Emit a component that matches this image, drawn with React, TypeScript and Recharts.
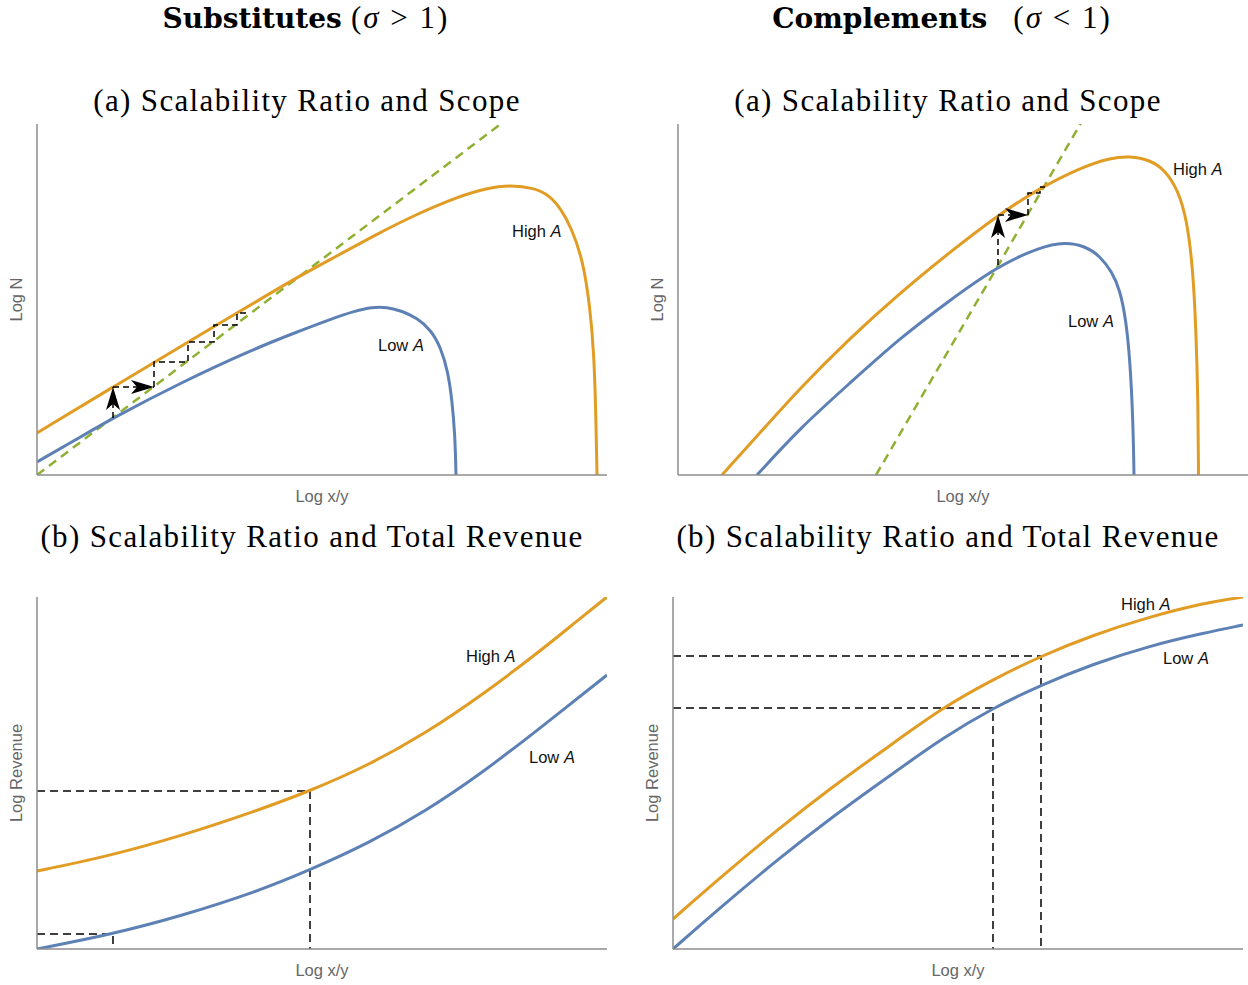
import { LineChart, Line, XAxis, YAxis, ReferenceDot } from "recharts";

const ORANGE = "#E19C24";
const BLUE = "#5E81B5";
const GREEN = "#8FB032";
const AXIS = "#8c8c8c";
const AXIS_TEXT = "#666666";
const SANS = "'Liberation Sans', Arial, sans-serif";
const SERIF = "'Liberation Serif', 'Times New Roman', serif";
const BOLD_SERIF = "'DejaVu Serif', serif";

// axis ranges (arbitrary log units, no ticks shown)
const X_MAX = 570;
const Y_MAX_TOP = 351;
const Y_MAX_BOTTOM = 352;

type Pt = { x: number; y: number };

// --- Substitutes (a): scalability ratio and scope ---
const subScopeHigh: Pt[] = [
  { x: 0, y: 42 }, { x: 76, y: 88 }, { x: 151, y: 133 }, { x: 200, y: 162 },
  { x: 264, y: 200 }, { x: 300, y: 219 }, { x: 340, y: 241 }, { x: 380, y: 261 },
  { x: 420, y: 278 }, { x: 450, y: 287 }, { x: 474, y: 290 }, { x: 497, y: 287 },
  { x: 512, y: 280 }, { x: 524, y: 266 }, { x: 534, y: 248 }, { x: 546, y: 215 },
  { x: 553, y: 168 }, { x: 557, y: 122 }, { x: 559, y: 55 }, { x: 560, y: 0 },
];
const subScopeLow: Pt[] = [
  { x: 0, y: 13 }, { x: 40, y: 36 }, { x: 76, y: 57 }, { x: 143, y: 92 },
  { x: 219, y: 127 }, { x: 260, y: 143 }, { x: 294, y: 156 }, { x: 318, y: 164 },
  { x: 335, y: 168 }, { x: 350, y: 168 }, { x: 365, y: 164 }, { x: 380, y: 157 },
  { x: 394, y: 145 }, { x: 404, y: 127 }, { x: 411, y: 103 }, { x: 415, y: 75 },
  { x: 418, y: 40 }, { x: 419, y: 0 },
];
const subScopeRay: Pt[] = [{ x: 0, y: 0 }, { x: 465, y: 352 }];
const subArrowUp: Pt[] = [{ x: 76, y: 57 }, { x: 76, y: 88 }];
const subArrowRight: Pt[] = [{ x: 76, y: 88 }, { x: 117, y: 88 }];
const subSteps: Pt[] = [
  { x: 117, y: 88 }, { x: 117, y: 113 }, { x: 151, y: 113 }, { x: 151, y: 133 },
  { x: 177, y: 133 }, { x: 177, y: 150 }, { x: 200, y: 150 }, { x: 200, y: 162 },
  { x: 211, y: 162 },
];

// --- Complements (a): scalability ratio and scope ---
const compScopeHigh: Pt[] = [
  { x: 44, y: 0 }, { x: 72, y: 31 }, { x: 122, y: 87 }, { x: 172, y: 137 },
  { x: 222, y: 182 }, { x: 272, y: 223 }, { x: 320, y: 260 }, { x: 362, y: 287 },
  { x: 402, y: 307 }, { x: 432, y: 317 }, { x: 452, y: 319 }, { x: 472, y: 315 },
  { x: 487, y: 305 }, { x: 500, y: 285 }, { x: 509, y: 255 }, { x: 515, y: 205 },
  { x: 518, y: 145 }, { x: 520, y: 75 }, { x: 520.5, y: 0 },
];
const compScopeLow: Pt[] = [
  { x: 79, y: 0 }, { x: 122, y: 47 }, { x: 172, y: 92 }, { x: 222, y: 137 },
  { x: 272, y: 175 }, { x: 320, y: 209 }, { x: 362, y: 228 }, { x: 387, y: 233 },
  { x: 407, y: 229 }, { x: 422, y: 219 }, { x: 434, y: 203 }, { x: 442, y: 185 },
  { x: 448, y: 155 }, { x: 452, y: 115 }, { x: 455, y: 55 }, { x: 456, y: 0 },
];
const compScopeRay: Pt[] = [{ x: 198, y: 0 }, { x: 403, y: 352 }];
const compArrowUp: Pt[] = [{ x: 320, y: 210 }, { x: 320, y: 260 }];
const compArrowRight: Pt[] = [{ x: 320, y: 260 }, { x: 350, y: 260 }];
const compSteps: Pt[] = [
  { x: 350, y: 260 }, { x: 350, y: 282 }, { x: 362, y: 282 }, { x: 362, y: 288 },
  { x: 367, y: 288 },
];

// --- Substitutes (b): scalability ratio and total revenue ---
const subRevHigh: Pt[] = [
  { x: 0, y: 78 }, { x: 68, y: 92 }, { x: 144, y: 113 }, { x: 219, y: 138 },
  { x: 273, y: 158 }, { x: 332, y: 184 }, { x: 389, y: 216 }, { x: 445, y: 254 },
  { x: 502, y: 297 }, { x: 540, y: 328 }, { x: 570, y: 352 },
];
const subRevLow: Pt[] = [
  { x: 0, y: 0 }, { x: 76, y: 15 }, { x: 144, y: 33 }, { x: 219, y: 57 },
  { x: 273, y: 79 }, { x: 332, y: 106 }, { x: 389, y: 138 }, { x: 445, y: 176 },
  { x: 502, y: 220 }, { x: 570, y: 274 },
];
const subRevGuideHigh: Pt[] = [{ x: 0, y: 158 }, { x: 273, y: 158 }, { x: 273, y: 0 }];
const subRevGuideLow: Pt[] = [{ x: 0, y: 15 }, { x: 76, y: 15 }, { x: 76, y: 0 }];

// --- Complements (b): scalability ratio and total revenue ---
const compRevHigh: Pt[] = [
  { x: 0, y: 30 }, { x: 48, y: 72 }, { x: 104, y: 119 }, { x: 159, y: 162 },
  { x: 215, y: 202 }, { x: 269, y: 241 }, { x: 319, y: 269 }, { x: 368, y: 293 },
  { x: 420, y: 314 }, { x: 476, y: 332 }, { x: 531, y: 346 }, { x: 570, y: 352 },
];
const compRevLow: Pt[] = [
  { x: 0, y: 0 }, { x: 48, y: 42 }, { x: 104, y: 89 }, { x: 159, y: 132 },
  { x: 215, y: 172 }, { x: 271, y: 212 }, { x: 320, y: 241 }, { x: 368, y: 264 },
  { x: 420, y: 285 }, { x: 476, y: 303 }, { x: 531, y: 316 }, { x: 570, y: 324 },
];
const compRevGuideHigh: Pt[] = [{ x: 0, y: 293 }, { x: 368, y: 293 }, { x: 368, y: 0 }];
const compRevGuideLow: Pt[] = [{ x: 0, y: 241 }, { x: 320, y: 241 }, { x: 320, y: 0 }];

function curve(key: string, data: Pt[], color: string) {
  return (
    <Line key={key} data={data} dataKey="y" type="basis" stroke={color}
      strokeWidth={3} dot={false} activeDot={false} isAnimationActive={false} />
  );
}

function dashed(key: string, data: Pt[], dash: string, color = "#000", width = 1.5) {
  return (
    <Line key={key} data={data} dataKey="y" type="linear" stroke={color}
      strokeWidth={width} strokeDasharray={dash} dot={false} activeDot={false}
      isAnimationActive={false} />
  );
}

function arrow(key: string, data: Pt[], dir: "up" | "right") {
  const head = (p: any) => {
    if (p.index !== data.length - 1) return <g key={`${key}-${p.index}`} />;
    const { cx, cy } = p;
    const d = dir === "up"
      ? `M${cx},${cy} L${cx - 7},${cy + 23} L${cx},${cy + 17} L${cx + 7},${cy + 23} Z`
      : `M${cx},${cy} L${cx - 23},${cy - 7} L${cx - 17},${cy} L${cx - 23},${cy + 7} Z`;
    return <path key={`${key}-${p.index}`} d={d} fill="#000" />;
  };
  return (
    <Line key={key} data={data} dataKey="y" type="linear" stroke="#000"
      strokeWidth={1.5} strokeDasharray="6 4" dot={head} activeDot={false}
      isAnimationActive={false} />
  );
}

function tag(key: string, x: number, y: number, word: string) {
  return (
    <ReferenceDot key={key} x={x} y={y} r={0}
      shape={(p: any) => (
        <text x={p.cx} y={p.cy} fontFamily={SANS} fontSize={16.5} fill="#111">
          {word} <tspan fontStyle="italic">A</tspan>
        </text>
      )} />
  );
}

function Panel({ left, top, yMax, yLabel, children }: {
  left: number; top: number; yMax: number; yLabel: string; children: any;
}) {
  return (
    <div style={{ position: "absolute", left, top }}>
      <LineChart width={30 + X_MAX} height={5 + yMax + 35}
        margin={{ top: 5, right: 0, bottom: 0, left: 0 }}>
        <XAxis type="number" dataKey="x" domain={[0, X_MAX]} allowDataOverflow
          tick={false} tickLine={false} height={35}
          axisLine={{ stroke: AXIS, strokeWidth: 1.5 }}
          label={{ value: "Log x/y", position: "insideBottom", offset: 8,
            fill: AXIS_TEXT, fontSize: 16.5, fontFamily: SANS }} />
        <YAxis type="number" dataKey="y" domain={[0, yMax]} allowDataOverflow
          tick={false} tickLine={false} width={30}
          axisLine={{ stroke: AXIS, strokeWidth: 1.5 }}
          label={{ value: yLabel, angle: -90, position: "insideLeft", offset: 9,
            fill: AXIS_TEXT, fontSize: 16.5, fontFamily: SANS,
            style: { textAnchor: "middle" } }} />
        {children}
      </LineChart>
    </div>
  );
}

function Title({ cx, top, children }: { cx: number; top: number; children: any }) {
  return (
    <div style={{
      position: "absolute", left: cx - 320, top, width: 640, textAlign: "center",
      fontFamily: SERIF, fontSize: 31, letterSpacing: "1.35px", lineHeight: "36px",
      color: "#000", whiteSpace: "nowrap",
    }}>
      {children}
    </div>
  );
}

const bold = { fontFamily: BOLD_SERIF, fontWeight: 700, fontSize: 28, letterSpacing: 0 };
const math = { letterSpacing: "2px" };

export default function App() {
  return (
    <div style={{ position: "absolute", left: 0, top: 0, width: 1248, height: 985, background: "#fff", overflow: "hidden" }}>
      <Title cx={306} top={0}>
        <span style={bold}>Substitutes</span> <span style={math}>(<i>σ</i> &gt; 1)</span>
      </Title>
      <Title cx={942} top={0}>
        <span style={bold}>Complements</span>{"\u2002"} <span style={math}>(<i>σ</i> &lt; 1)</span>
      </Title>
      <Title cx={307} top={83}>(a) Scalability Ratio and Scope</Title>
      <Title cx={948} top={83}>(a) Scalability Ratio and Scope</Title>
      <Title cx={312} top={519}>(b) Scalability Ratio and Total Revenue</Title>
      <Title cx={948} top={519}>(b) Scalability Ratio and Total Revenue</Title>

      <Panel left={7} top={119} yMax={Y_MAX_TOP} yLabel="Log N">
        {dashed("ray", subScopeRay, "9 6", GREEN, 2.5)}
        {curve("high", subScopeHigh, ORANGE)}
        {curve("low", subScopeLow, BLUE)}
        {arrow("up", subArrowUp, "up")}
        {arrow("right", subArrowRight, "right")}
        {dashed("steps", subSteps, "6 4")}
        {tag("tHigh", 475, 238, "High")}
        {tag("tLow", 341, 124, "Low")}
      </Panel>

      <Panel left={648} top={119} yMax={Y_MAX_TOP} yLabel="Log N">
        {dashed("ray", compScopeRay, "9 6", GREEN, 2.5)}
        {curve("high", compScopeHigh, ORANGE)}
        {curve("low", compScopeLow, BLUE)}
        {arrow("up", compArrowUp, "up")}
        {arrow("right", compArrowRight, "right")}
        {dashed("steps", compSteps, "6 4")}
        {tag("tHigh", 495, 300, "High")}
        {tag("tLow", 390, 148, "Low")}
      </Panel>

      <Panel left={7} top={592} yMax={Y_MAX_BOTTOM} yLabel="Log Revenue">
        {dashed("g1", subRevGuideHigh, "8 5")}
        {dashed("g2", subRevGuideLow, "8 5")}
        {curve("high", subRevHigh, ORANGE)}
        {curve("low", subRevLow, BLUE)}
        {tag("tHigh", 429, 287, "High")}
        {tag("tLow", 492, 186, "Low")}
      </Panel>

      <Panel left={643} top={592} yMax={Y_MAX_BOTTOM} yLabel="Log Revenue">
        {dashed("g1", compRevGuideHigh, "8 5")}
        {dashed("g2", compRevGuideLow, "8 5")}
        {curve("high", compRevHigh, ORANGE)}
        {curve("low", compRevLow, BLUE)}
        {tag("tHigh", 448, 339, "High")}
        {tag("tLow", 490, 285, "Low")}
      </Panel>
    </div>
  );
}
